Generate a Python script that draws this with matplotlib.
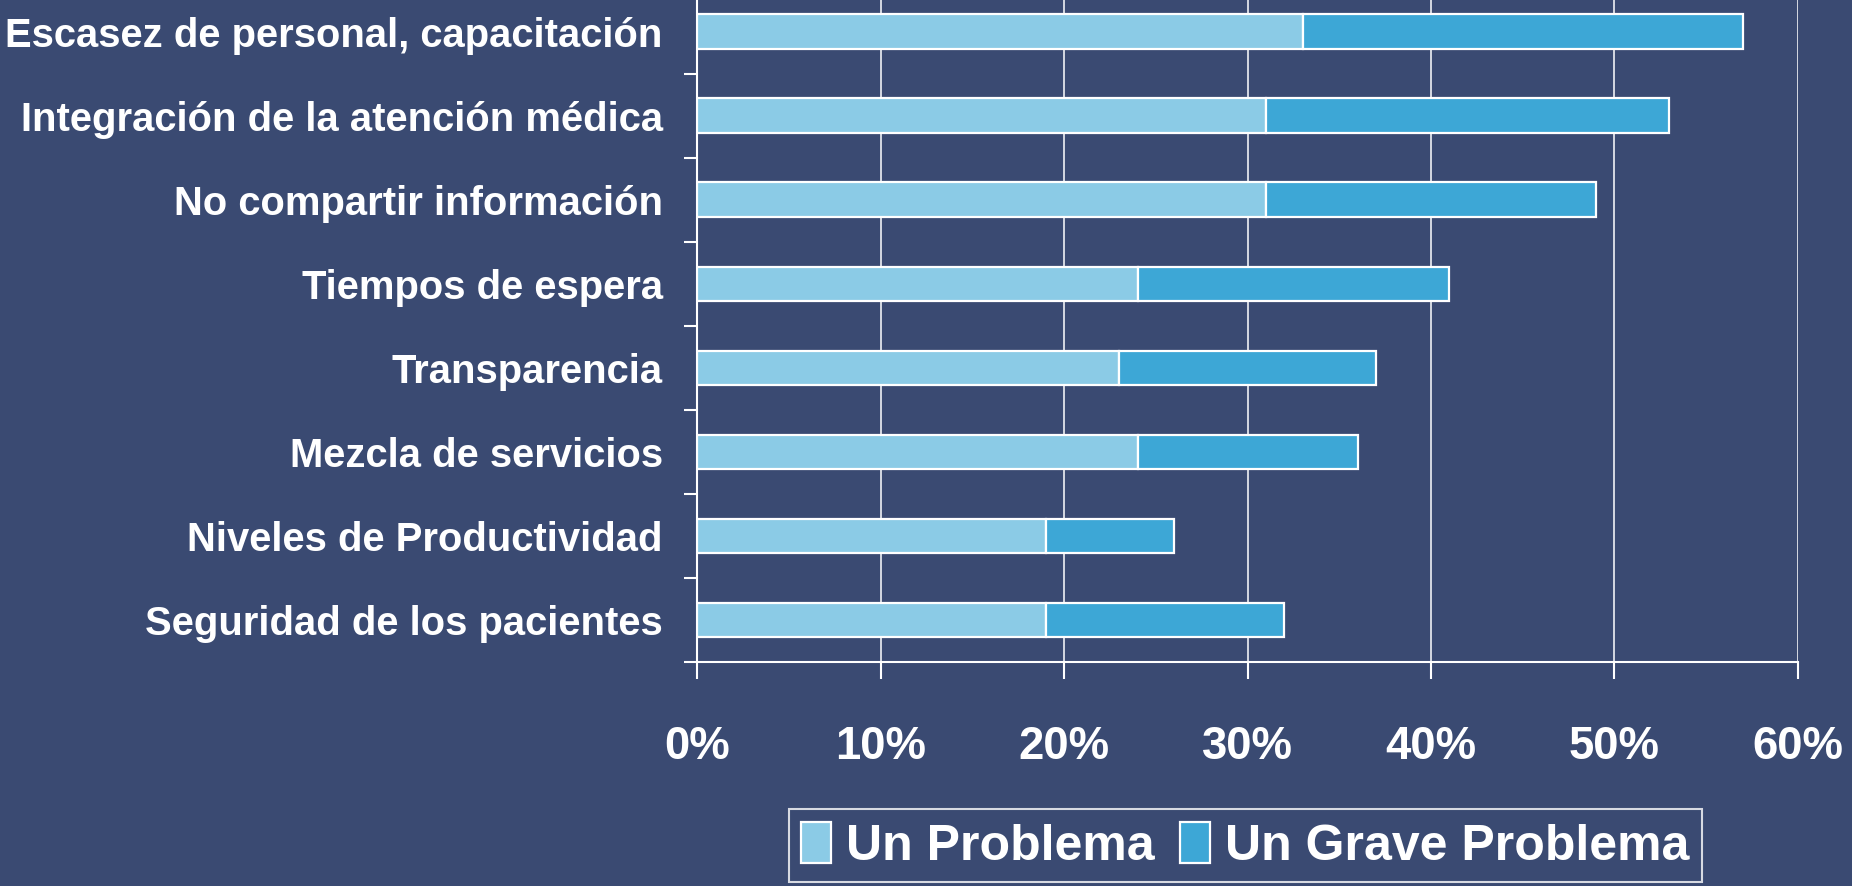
import matplotlib
matplotlib.use("Agg")
import matplotlib.pyplot as plt
import numpy as np
from matplotlib.ticker import FixedLocator

categories = [
    "Seguridad de los pacientes",
    "Niveles de Productividad",
    "Mezcla de servicios",
    "Transparencia",
    "Tiempos de espera",
    "No compartir información",
    "Integración de la atención médica",
    "Escasez de personal, capacitación",
]
un_problema = [19, 19, 24, 23, 24, 31, 31, 33]
grave_problema = [13, 7, 12, 14, 17, 18, 22, 24]
xticks = [0, 10, 20, 30, 40, 50, 60]
xtick_labels = ["0%", "10%", "20%", "30%", "40%", "50%", "60%"]
series_names = ["Un Problema", "Un Grave Problema"]

BG = "#3A4A72"
C1 = "#8BCBE6"
C2 = "#3DA7D6"

plt.rcParams["font.family"] = ["Liberation Sans", "DejaVu Sans"]
plt.rcParams["font.weight"] = "bold"

fig = plt.figure(figsize=(18.52, 8.86), dpi=100, facecolor=BG)
ax = fig.add_axes([0.3766, 0.2528, 0.5941, 0.759])
ax.set_facecolor(BG)

y = np.arange(len(categories))
h = 0.41
ax.barh(y, un_problema, height=h, color=C1, edgecolor="white", linewidth=1.6, label=series_names[0], zorder=3)
ax.barh(y, grave_problema, left=un_problema, height=h, color=C2, edgecolor="white", linewidth=1.6, label=series_names[1], zorder=3)

ax.set_xlim(0, 60)
ax.set_ylim(-0.5, len(categories) - 0.5)
ax.set_xticks(xticks)
ax.set_xticklabels(xtick_labels, fontsize=32.8, fontweight="bold", color="white")
ax.set_yticks(y)
ax.set_yticklabels(categories, fontsize=28.8, fontweight="bold", color="white")
ax.yaxis.set_minor_locator(FixedLocator(np.arange(-0.5, len(categories), 1.0)))

ax.tick_params(axis="x", which="major", length=12, width=1.5, color="white", pad=33, direction="out")
ax.tick_params(axis="y", which="major", length=0, pad=25)
ax.tick_params(axis="y", which="minor", length=9.5, width=1.5, color="white", direction="out")

ax.grid(axis="x", color="white", linewidth=1.1, zorder=0)
ax.set_axisbelow(True)
for side in ["top", "right"]:
    ax.spines[side].set_visible(False)
for side in ["left", "bottom"]:
    ax.spines[side].set_color("white")
    ax.spines[side].set_linewidth(1.5)

leg = fig.legend(loc="center", bbox_to_anchor=(0.6725, 0.0457), ncol=2,
                 fontsize=36, frameon=True, fancybox=False, facecolor=BG,
                 edgecolor="white", handlelength=0.6, handleheight=0.9,
                 handletextpad=0.3, columnspacing=0.5, borderpad=0.25,
                 borderaxespad=0)
leg.get_frame().set_linewidth(1.5)
for t in leg.get_texts():
    t.set_color("white")
    t.set_fontweight("bold")

fig.savefig("out.png", dpi=100, facecolor=BG)
